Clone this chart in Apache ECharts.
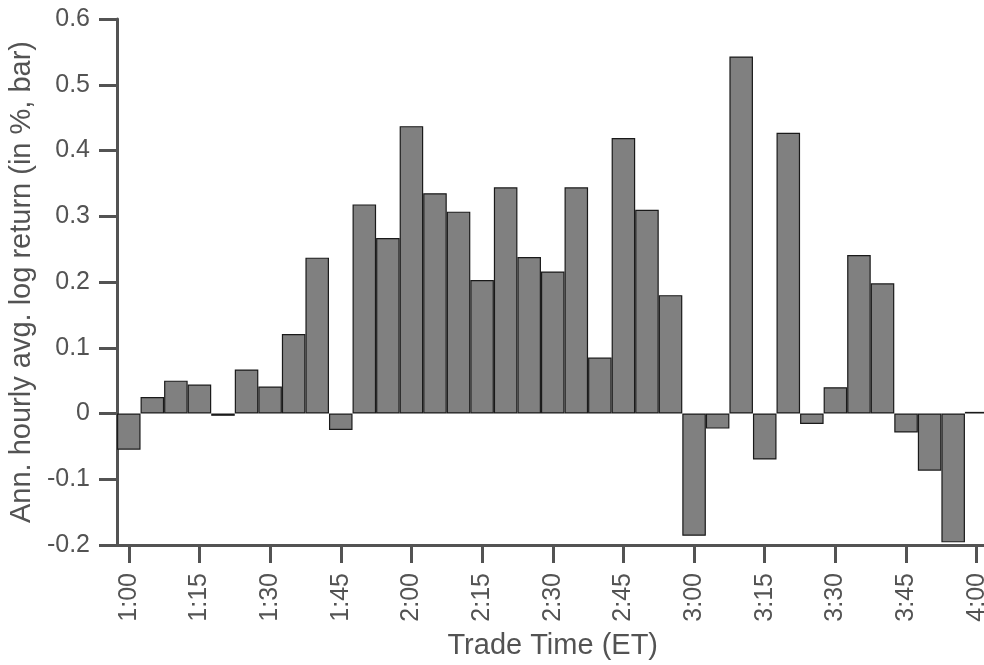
<!DOCTYPE html>
<html>
<head>
<meta charset="utf-8">
<script src="https://cdn.jsdelivr.net/npm/echarts@6/dist/echarts.min.js"></script>
<style>
  html, body { margin: 0; padding: 0; background: #fff; }
  #chart { width: 984px; height: 665px; }
</style>
</head>
<body>
<div id="chart"></div>
<script>
// Five-minute buckets of the trading session (ET)
const times = [
  '1:00','1:05','1:10','1:15','1:20','1:25','1:30','1:35','1:40','1:45',
  '1:50','1:55','2:00','2:05','2:10','2:15','2:20','2:25','2:30','2:35',
  '2:40','2:45','2:50','2:55','3:00','3:05','3:10','3:15','3:20','3:25',
  '3:30','3:35','3:40','3:45','3:50','3:55','4:00'
];

// Annualised hourly average log return, in percent
const returns = [
  -0.055, 0.025, 0.050, 0.044, -0.0035, 0.067, 0.041, 0.121, 0.237, -0.025,
  0.318, 0.267, 0.437, 0.335, 0.307, 0.203, 0.344, 0.238, 0.216, 0.344,
  0.085, 0.419, 0.310, 0.180, -0.186, -0.023, 0.543, -0.070, 0.427, -0.016,
  0.040, 0.241, 0.198, -0.029, -0.087, -0.196, 0.0025
];

const yTicks = { min: -0.2, max: 0.6, step: 0.1 };

const axisGrey = '#535353';
const font = 'Liberation Sans, Arial, Helvetica, sans-serif';

const chart = echarts.init(document.getElementById('chart'), null, { renderer: 'canvas' });

// the last bucket runs slightly past the right edge of the canvas
chart.setOption({
  animation: false,
  backgroundColor: '#ffffff',
  grid: {
    left: 117, top: 19, width: 871.5, height: 526,
    containLabel: false, outerBoundsMode: 'none'
  },
  xAxis: {
    type: 'category',
    data: times,
    boundaryGap: true,
    name: 'Trade Time (ET)',
    nameLocation: 'middle',
    nameGap: 86,
    nameTextStyle: { color: axisGrey, fontSize: 29, fontFamily: font },
    axisLine: { onZero: false, lineStyle: { color: axisGrey, width: 3 } },
    axisTick: { show: true, interval: 2, alignWithLabel: true, length: 18, lineStyle: { color: axisGrey, width: 3 } },
    axisLabel: {
      interval: 2, rotate: 90, margin: 28,
      color: axisGrey, fontSize: 25, fontFamily: font
    },
    splitLine: { show: false }
  },
  yAxis: {
    type: 'value',
    min: yTicks.min,
    max: yTicks.max,
    interval: yTicks.step,
    name: 'Ann. hourly avg. log return (in %, bar)',
    nameLocation: 'middle',
    nameGap: 69,
    nameTextStyle: { color: axisGrey, fontSize: 29, fontFamily: font },
    axisLine: { show: true, lineStyle: { color: axisGrey, width: 3 } },
    axisTick: { show: true, length: 18, lineStyle: { color: axisGrey, width: 3 } },
    axisLabel: {
      margin: 27, color: axisGrey, fontSize: 25, fontFamily: font,
      formatter: v => String(Number(v.toFixed(1)))
    },
    splitLine: { show: false }
  },
  series: [{
    type: 'bar',
    data: returns,
    barWidth: '100%',
    barCategoryGap: '0%',
    itemStyle: { color: '#808080', borderColor: '#1a1a1a', borderWidth: 1.2 }
  }]
});
</script>
</body>
</html>
